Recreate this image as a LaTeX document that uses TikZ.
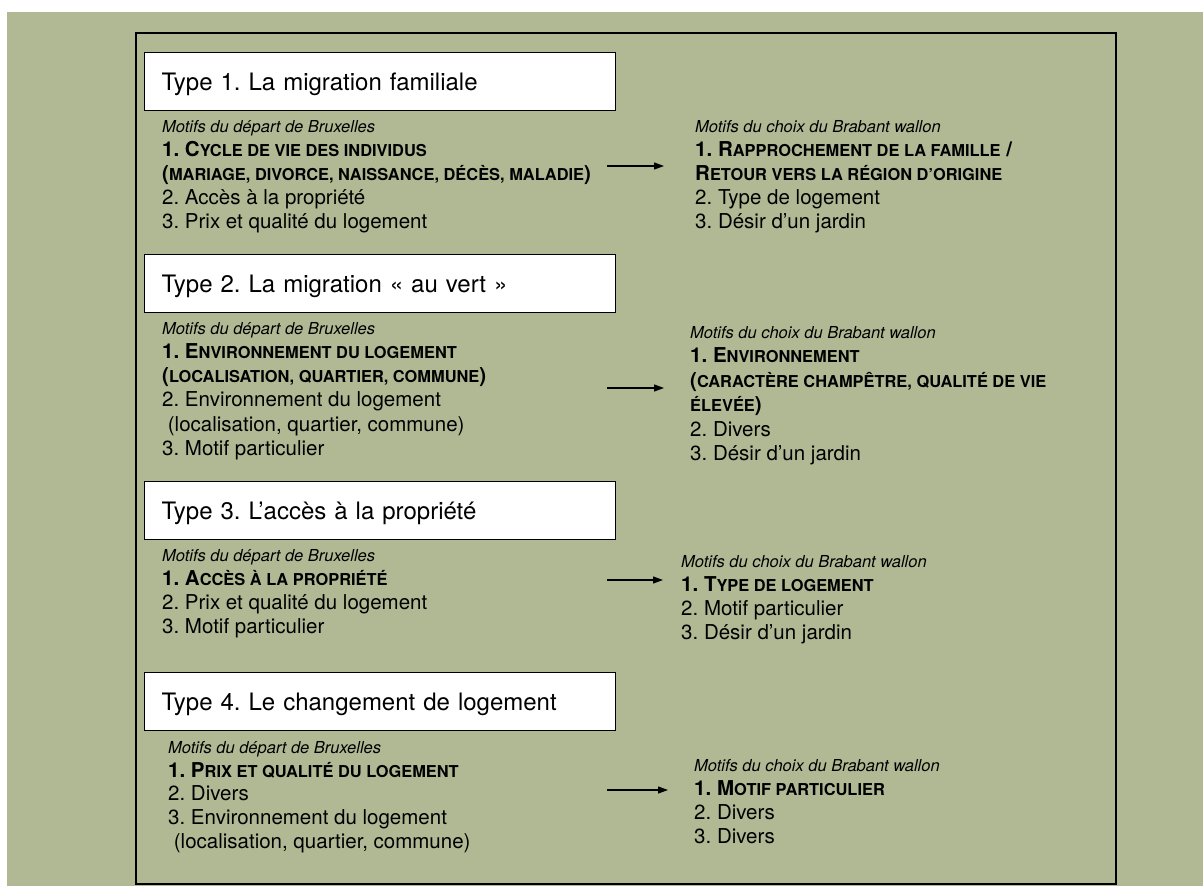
\documentclass[tikz,border=0pt]{standalone}
\usepackage{fontspec}
\setmainfont{TeX Gyre Heros}
\usetikzlibrary{positioning,arrows.meta}
\definecolor{fondvert}{RGB}{176,185,148}
\newcommand\pc[1]{{\fontsize{16.4}{24}\selectfont #1}}
\newcommand\mot{\fontsize{16.5}{24}\selectfont\itshape}
\tikzset{titre/.style={anchor=north west,draw=black,fill=white,line width=1.3pt,text width=437pt,align=left,minimum height=58pt,inner xsep=17pt,text height=17pt,text depth=0pt,font=\fontsize{24}{28}\selectfont},
	ln/.style={anchor=base west,inner sep=0pt,font=\fontsize{20.5}{24}\selectfont},
	fl/.style={-{Triangle[length=10pt,width=7pt]},line width=1.1pt}}

\begin{document}
\frenchspacing
\begin{tikzpicture}[x=1pt,y=-1pt]
	\useasboundingbox (0,0) rectangle (1203,886);
	\fill[white] (0,0) rectangle (1203,886);
	\fill[fondvert] (7,12) rectangle (1203,886);
	\draw[line width=1.8pt] (136,33) rectangle (1116,884);
	% les quatre types
	\foreach \n/\yb/\txt in {1/52/{Type 1. La migration familiale},2/254/{Type 2. La migration « au vert »},3/481/{Type 3. L’accès à la propriété},4/672/{Type 4. Le changement de logement}}{
		\node[titre] (t\n) at (144,\yb) {\txt};
	}
	% type 1
	\foreach \l [count=\i] in {{\mot Motifs du départ de Bruxelles},{\bfseries 1. C\pc{YCLE DE VIE DES INDIVIDUS}},{\bfseries (\pc{MARIAGE, DIVORCE, NAISSANCE, DÉCÈS, MALADIE})},{2. Accès à la propriété},{3. Prix et qualité du logement}}{
		\node[ln] (g1-\i) at (162,108+24*\i) {\l};
	}
	\foreach \l [count=\i] in {{\mot Motifs du choix du Brabant wallon},{\bfseries 1. R\pc{APPROCHEMENT DE LA FAMILLE} /},{\bfseries R\pc{ETOUR VERS LA RÉGION D’ORIGINE}},{2. Type de logement},{3. Désir d’un jardin}}{
		\node[ln] (d1-\i) at (695,108+24*\i) {\l};
	}
	% type 2
	\foreach \l [count=\i] in {{\mot Motifs du départ de Bruxelles},{\bfseries 1. E\pc{NVIRONNEMENT DU LOGEMENT}},{\bfseries (\pc{LOCALISATION, QUARTIER, COMMUNE})},{2. Environnement du logement},{\ (localisation, quartier, commune)},{3. Motif particulier}}{
		\node[ln] (g2-\i) at (162,310+24.2*\i) {\l};
	}
	\foreach \l [count=\i] in {{\mot Motifs du choix du Brabant wallon},{\bfseries 1. E\pc{NVIRONNEMENT}},{\bfseries (\pc{CARACTÈRE CHAMPÊTRE, QUALITÉ DE VIE}},{\bfseries \pc{ÉLEVÉE})},{2. Divers},{3. Désir d’un jardin}}{
		\node[ln] (d2-\i) at (690,313.5+24.5*\i) {\l};
	}
	% type 3
	\foreach \l [count=\i] in {{\mot Motifs du départ de Bruxelles},{\bfseries 1. A\pc{CCÈS À LA PROPRIÉTÉ}},{2. Prix et qualité du logement},{3. Motif particulier}}{
		\node[ln] (g3-\i) at (162,537+24*\i) {\l};
	}
	\foreach \l [count=\i] in {{\mot Motifs du choix du Brabant wallon},{\bfseries 1. T\pc{YPE DE LOGEMENT}},{2. Motif particulier},{3. Désir d’un jardin}}{
		\node[ln] (d3-\i) at (681,543+24*\i) {\l};
	}
	% type 4
	\foreach \l [count=\i] in {{\mot Motifs du départ de Bruxelles},{\bfseries 1. P\pc{RIX ET QUALITÉ DU LOGEMENT}},{2. Divers},{3. Environnement du logement},{\ (localisation, quartier, commune)}}{
		\node[ln] (g4-\i) at (168,730+23.6*\i) {\l};
	}
	\foreach \l [count=\i] in {{\mot Motifs du choix du Brabant wallon},{\bfseries 1. M\pc{OTIF PARTICULIER}},{2. Divers},{3. Divers}}{
		\node[ln] (d4-\i) at (694,747+24*\i) {\l};
	}
	% fleches
	\foreach \n/\ya/\xb in {1/166/664,2/388/664,3/580/663,4/790/668}{
		\coordinate (a\n) at (607,\ya);
		\coordinate (b\n) at (\xb,\ya);
		\draw[fl] (a\n) -- (b\n);
	}
\end{tikzpicture}
\end{document}
